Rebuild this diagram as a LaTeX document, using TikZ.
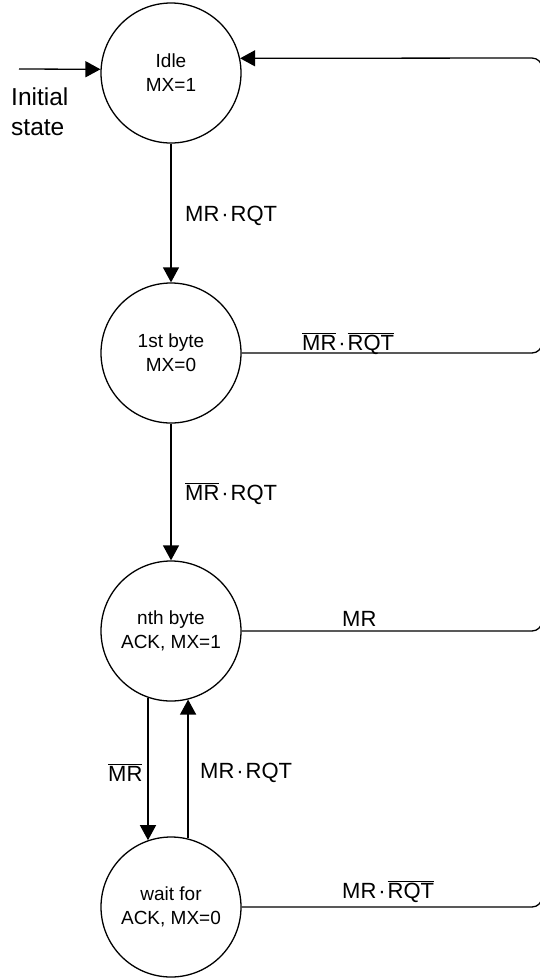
\documentclass[tikz,border=0pt]{standalone}
\usepackage{fontspec}
\setmainfont{Liberation Sans}
\usetikzlibrary{arrows.meta}
\newcommand\ovl[1]{$\overline{\hbox{#1}}$}
\newcommand\mdot{\kern2pt·\kern2pt}
\begin{document}
\begin{tikzpicture}[x=1pt,y=-1pt,
  state/.style={draw,circle,line width=1.3pt,minimum size=140pt,inner sep=0pt,align=center,font=\fontsize{19}{24}\selectfont},
  lbl/.style={anchor=base west,inner sep=0pt,font=\fontsize{22}{26}\selectfont},
  conn/.style={line width=1.3pt},
  arr/.style={conn,-{Triangle[length=15pt,width=16pt]}}]
\useasboundingbox (0,0) rectangle (539,978);
\node[state] (idle) at (171,73) {Idle\\MX=1};
\node[state] (first) at (171,353) {1st byte\\MX=0};
\node[state] (nth) at (171,631) {nth byte\\ACK, MX=1};
\node[state] (wait) at (171,907) {wait for\\ACK, MX=0};
\node[align=left,anchor=west,inner sep=0pt,font=\fontsize{24.5}{30}\selectfont] (init) at (11,112) {Initial\\state};
\coordinate (istart) at (19,69);
\draw[arr] (istart) -- (idle.177);
\draw[arr] (idle.south) -- (first.north);
\draw[arr] (first.south) -- (nth.north);
\draw[arr] (nth.251) -- (wait.109);
\draw[arr] (wait.76) -- (nth.284);
\coordinate (r1) at (542,353);
\coordinate (r2) at (542,631);
\coordinate (r3) at (542,907);
\coordinate (rtop) at (542,58);
\draw[arr,rounded corners=10pt] (wait.east) -- (r3) -- (rtop) -- (idle.12);
\draw[conn,rounded corners=10pt] (first.east) -- (r1) -- ++(0,-30);
\draw[conn,rounded corners=10pt] (nth.east) -- (r2) -- ++(0,-30);
\node[lbl] (l1) at (185,221) {MR\mdot RQT};
\node[lbl] (l2) at (302,350) {\ovl{MR}\mdot\ovl{RQT}};
\node[lbl] (l3) at (185,500) {\ovl{MR}\mdot RQT};
\node[lbl] (l4) at (342,626) {MR};
\node[lbl] (l5) at (108,781) {\ovl{MR}};
\node[lbl] (l6) at (200,778) {MR\mdot RQT};
\node[lbl] (l7) at (342,898) {MR\mdot\ovl{RQT}};
\end{tikzpicture}
\end{document}
